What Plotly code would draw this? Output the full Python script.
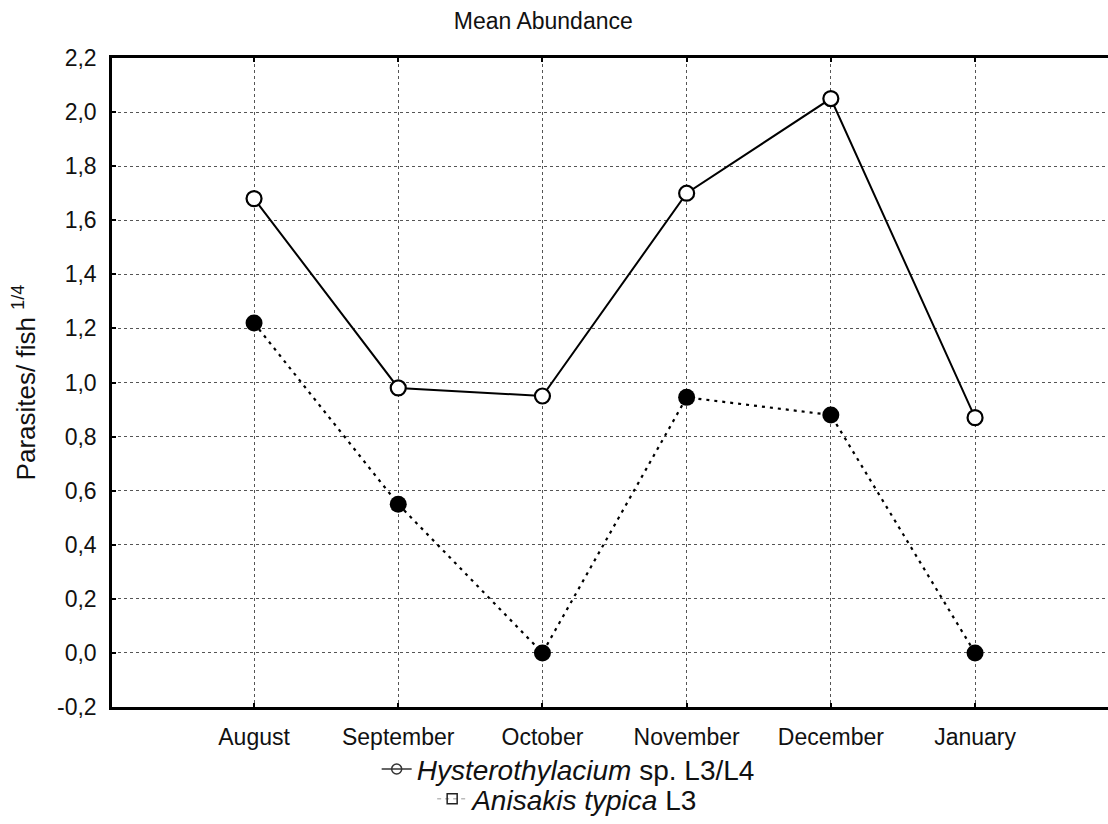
import plotly.graph_objects as go

months = ["August", "September", "October", "November", "December", "January"]
hysterothylacium = [1.68, 0.98, 0.95, 1.70, 2.05, 0.87]
anisakis = [1.22, 0.55, 0.0, 0.945, 0.88, 0.0]
y_ticks = [-0.2, 0.0, 0.2, 0.4, 0.6, 0.8, 1.0, 1.2, 1.4, 1.6, 1.8, 2.0, 2.2]
y_tick_labels = ["-0,2", "0,0", "0,2", "0,4", "0,6", "0,8", "1,0", "1,2", "1,4", "1,6", "1,8", "2,0", "2,2"]

FONT = "Liberation Sans, Arial, sans-serif"
TXT = "#111111"

fig = go.Figure()

fig.add_trace(go.Scatter(
    x=months, y=anisakis, mode="lines+markers", showlegend=False,
    line=dict(color="black", width=2.2, dash="3px,5px"),
    marker=dict(symbol="circle", size=17, color="black"),
))
fig.add_trace(go.Scatter(
    x=months, y=hysterothylacium, mode="lines+markers", showlegend=False,
    line=dict(color="black", width=2),
    marker=dict(symbol="circle", size=15, color="white", line=dict(color="black", width=2.2)),
))

# legend-only entries
fig.add_trace(go.Scatter(
    x=[None], y=[None], mode="lines+markers", legend="legend",
    name="<i>Hysterothylacium</i> sp. L3/L4",
    line=dict(color="#333333", width=1.5),
    marker=dict(symbol="circle-open", size=10, color="#333333", line=dict(width=1.5)),
))
fig.add_trace(go.Scatter(
    x=[None], y=[None], mode="lines+markers", legend="legend2",
    name="<i>Anisakis typica</i> L3",
    line=dict(color="#bbbbbb", width=1.5, dash="4px,4px"),
    marker=dict(symbol="square-open", size=10, color="#222222", line=dict(width=1.5)),
))

fig.update_layout(
    width=1108, height=824,
    margin=dict(l=112, r=0, t=58, b=111),
    paper_bgcolor="white", plot_bgcolor="white",
    separators=",.",
    font=dict(family=FONT, size=23, color=TXT),
    title=dict(text="Mean Abundance", x=0.433, xref="paper", xanchor="center",
               y=0.975, yref="container", yanchor="middle",
               font=dict(family=FONT, size=23, color=TXT)),
    xaxis=dict(
        range=[-0.985, 5.922], showline=True, linecolor="black", linewidth=2.5,
        mirror="ticks", ticks="inside", ticklen=4, tickwidth=2, tickcolor="black",
        showgrid=True, gridcolor="#555555", gridwidth=1, griddash="dot",
        tickfont=dict(family=FONT, size=23, color=TXT), zeroline=False,
        ticklabelstandoff=8,
    ),
    yaxis=dict(
        range=[-0.2, 2.2], tickvals=y_ticks, ticktext=y_tick_labels,
        showline=True, linecolor="black", linewidth=2.5,
        ticks="inside", ticklen=4, tickwidth=2, tickcolor="black",
        showgrid=True, gridcolor="#555555", gridwidth=1, griddash="dot",
        zeroline=False, ticklabelstandoff=8,
        tickfont=dict(family=FONT, size=23, color=TXT),
        title=dict(text="Parasites/ fish <sup>1/4</sup>", standoff=14,
                   font=dict(family=FONT, size=26, color=TXT)),
    ),
    legend=dict(x=0.458, xanchor="center", y=-0.096, yanchor="middle",
                font=dict(family=FONT, size=28, color=TXT),
                bgcolor="rgba(0,0,0,0)", itemwidth=30),
    legend2=dict(x=0.458, xanchor="center", y=-0.142, yanchor="middle",
                 font=dict(family=FONT, size=28, color=TXT),
                 bgcolor="rgba(0,0,0,0)", itemwidth=30),
)

fig.write_html(
    "out.html",
    config={"displayModeBar": False},
    post_script="document.body.style.margin='0';document.body.style.overflow='hidden';",
)
